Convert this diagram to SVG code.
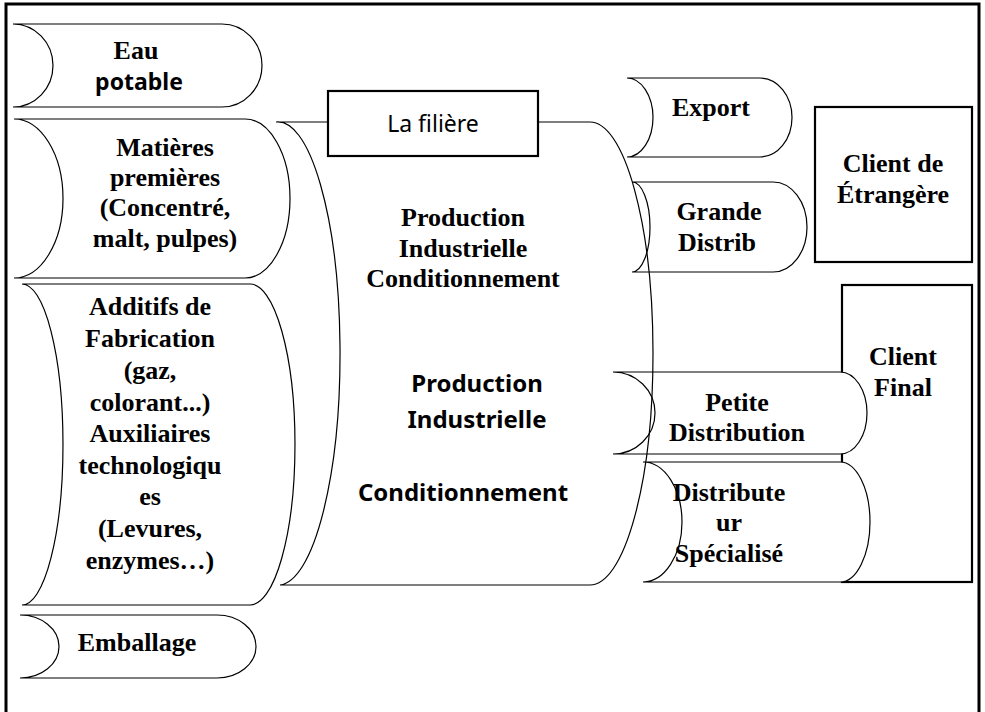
<svg xmlns="http://www.w3.org/2000/svg" width="985" height="712" viewBox="0 0 985 712">
<style>
.bg{fill:#ffffff}
.frame{fill:none;stroke:#000;stroke-width:3}
.sd{fill:none;stroke:#000;stroke-width:1.2}
.sdw{fill:#fff;stroke:#000;stroke-width:1.2}
.box{fill:#fff;stroke:#000;stroke-width:2.2}
.t{font-family:"Liberation Serif","Times New Roman",serif;font-weight:bold;font-size:26px;fill:#000;text-anchor:middle}
.c{font-family:"Noto Sans","Open Sans",sans-serif;font-weight:bold;font-size:23px;fill:#000;text-anchor:middle}
.cr{font-family:"Noto Sans","Open Sans",sans-serif;font-size:23px;fill:#000;text-anchor:middle}
</style>
<rect class="bg" x="0" y="0" width="985" height="712"/>
<path class="frame" d="M6,712 V4 H979 V712"/>

<g id="eau-potable">
<path class="sd" d="M13,24 H222 A40,41.5 0 0 1 222,107 H13 A40,41.5 0 0 0 13,24 Z"/>
<text class="t" x="136" y="59">Eau</text>
<text class="c" x="139" y="90">potable</text>
</g>

<g id="matieres-premieres">
<path class="sd" d="M14,119 H245 A45,79.5 0 0 1 245,278 H14 A49,79.5 0 0 0 14,119 Z"/>
<text class="t" x="165" y="156">Matières</text>
<text class="t" x="165" y="186">premières</text>
<text class="t" x="165" y="216">(Concentré,</text>
<text class="t" x="165" y="247">malt, pulpes)</text>
</g>

<g id="additifs">
<path class="sd" d="M22,284 H250 A45,160.5 0 0 1 250,605 H22 A41,160.5 0 0 0 22,284 Z"/>
<text class="t" x="150" y="315">Additifs de</text>
<text class="t" x="150" y="347">Fabrication</text>
<text class="t" x="150" y="379">(gaz,</text>
<text class="t" x="150" y="411">colorant...)</text>
<text class="t" x="150" y="442">Auxiliaires</text>
<text class="t" x="150" y="474">technologiqu</text>
<text class="t" x="150" y="505">es</text>
<text class="t" x="150" y="537">(Levures,</text>
<text class="t" x="150" y="569">enzymes…)</text>
</g>

<g id="emballage">
<path class="sd" d="M20,615 H217 A39,31.5 0 0 1 217,678 H20 A39,31.5 0 0 0 20,615 Z"/>
<text class="t" x="137" y="651">Emballage</text>
</g>

<g id="export">
<path class="sd" d="M627,78 H760 A32,39.5 0 0 1 760,157 H627 A26,39.5 0 0 0 627,78 Z"/>
<text class="t" x="711" y="116">Export</text>
</g>

<g id="grande-distribution">
<path class="sd" d="M632,182 H773 A34,45 0 0 1 773,272 H632 A18,45 0 0 0 632,182 Z"/>
<text class="t" x="719" y="220">Grande</text>
<text class="t" x="717" y="251">Distrib</text>
</g>

<g id="client-etranger">
<rect class="box" x="815" y="107" width="157" height="155"/>
<text class="t" x="893" y="172">Client de</text>
<text class="t" x="893" y="203">Étrangère</text>
</g>

<g id="client-final">
<rect class="box" x="842" y="285" width="130" height="297"/>
<text class="t" x="903" y="365">Client</text>
<text class="t" x="903" y="396">Final</text>
</g>

<g id="petite-distribution">
<path class="sdw" d="M613,372 H840 A27,41 0 0 1 840,454 H613 A42,41 0 0 0 613,372 Z"/>
<text class="t" x="737" y="411">Petite</text>
<text class="t" x="737" y="441">Distribution</text>
</g>

<g id="distributeur-specialise">
<path class="sdw" d="M643,462 H840 A30,60 0 0 1 840,582 H643 A39,60 0 0 0 643,462 Z"/>
<text class="t" x="729" y="501">Distribute</text>
<text class="t" x="729" y="531">ur</text>
<text class="t" x="729" y="562">Spécialisé</text>
</g>

<g id="production">
<path class="sd" d="M276,122 H590 A63,231.5 0 0 1 590,585 H280 A62,231.5 0 0 0 276,122 Z"/>
<text class="t" x="463" y="226">Production</text>
<text class="t" x="463" y="257">Industrielle</text>
<text class="t" x="463" y="287">Conditionnement</text>
<text class="c" x="477" y="392" style="font-size:24px">Production</text>
<text class="c" x="477" y="428" style="font-size:24px">Industrielle</text>
<text class="c" x="463" y="501" style="font-size:24px">Conditionnement</text>
</g>

<g id="la-filiere">
<rect class="box" x="328" y="91" width="210" height="65"/>
<text class="cr" x="433" y="132">La filière</text>
</g>

<g id="connectors"></g>
</svg>
